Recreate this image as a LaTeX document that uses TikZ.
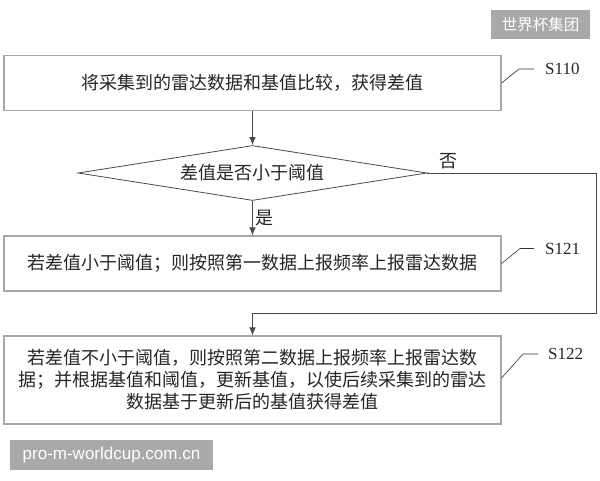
\documentclass[tikz,border=0pt]{standalone}
\usepackage{fontspec}
\setmainfont{Liberation Serif}
\newfontfamily\cjk{Noto Sans CJK SC}
\newfontfamily\wmfont{Liberation Sans}
\usetikzlibrary{shapes.geometric, arrows.meta, positioning}

\definecolor{boxgray}{HTML}{A8A8A8}
\definecolor{linegray}{HTML}{4A4A4A}
\definecolor{wmgray}{HTML}{A9A9A9}

\tikzset{
  stepbox/.style={draw=boxgray, line width=1.1pt, minimum width=497pt, inner sep=0pt,
    align=center, text=black!85, font=\cjk\fontsize{18pt}{22pt}\selectfont},
  decision/.style={diamond, draw=linegray, line width=0.8pt, inner sep=0pt, aspect=6.35,
    minimum width=349pt, minimum height=55pt, text=black!85,
    font=\cjk\fontsize{18pt}{22pt}\selectfont},
  arr/.style={draw=linegray, line width=0.7pt, -{Latex[length=8pt,width=6.5pt]}},
  lead/.style={draw=black!80, line width=0.6pt},
  tag/.style={anchor=west, inner sep=0pt, text=black!85, font=\fontsize{17pt}{17pt}\selectfont},
  yesno/.style={inner sep=3pt, text=black!85, font=\cjk\fontsize{18pt}{18pt}\selectfont},
  wmbox/.style={fill=wmgray, text=white, inner sep=0pt},
}

\begin{document}
\begin{tikzpicture}[x=1pt,y=-1pt]
  \fill[white] (0,0) rectangle (600,480);
  \useasboundingbox (0,0) rectangle (600,480);

  % steps
  \node[stepbox, minimum height=55pt] (collect) at (252.5,83) {将采集到的雷达数据和基值比较，获得差值};
  \node[decision] (check) at (252.5,173) {差值是否小于阈值};
  \node[stepbox, minimum height=55pt] (low) at (252.5,263.5) {若差值小于阈值；则按照第一数据上报频率上报雷达数据};
  \node[stepbox, minimum height=88pt] (high) at (252.5,380) {若差值不小于阈值，则按照第二数据上报频率上报雷达数\\据；并根据基值和阈值，更新基值，以使后续采集到的雷达\\数据基于更新后的基值获得差值};

  % flow
  \draw[arr] (collect) -- (check);
  \draw[arr] (check) -- node[right, yesno] (yes) {是} (low);
  \coordinate (c1) at (596,173);
  \coordinate (c2) at (596,313);
  \draw[arr] (check.east) -- (c1) -- (c2) -| (high.north);
  \node[yesno, anchor=south west] (no) at ([xshift=9pt,yshift=1pt]check.east) {否};

  % step labels
  \node[tag] (s110) at (545,69) {S110};
  \node[tag] (s121) at (545,248.5) {S121};
  \node[tag] (s122) at (548,354) {S122};
  \coordinate (k110) at (519,69);
  \coordinate (k121) at (520,248.5);
  \coordinate (k122) at (523,354);
  \draw[lead, shorten >=11pt] (collect.east) -- (k110) -- (s110.west);
  \draw[lead, shorten >=11pt] (low.east) -- (k121) -- (s121.west);
  \draw[lead, shorten >=10pt] ([yshift=2pt]high.east) -- (k122) -- (s122.west);

  % watermarks
  \node[wmbox, minimum width=99pt, minimum height=29pt, font=\cjk\fontsize{15.5pt}{15.5pt}\selectfont] (wmtop) at (540.5,24.5) {世界杯集团};
  \node[wmbox, minimum width=203pt, minimum height=30pt, font=\wmfont\fontsize{17pt}{17pt}\selectfont] (wmbot) at (111.5,455) {pro-m-worldcup.com.cn};
\end{tikzpicture}
\end{document}
